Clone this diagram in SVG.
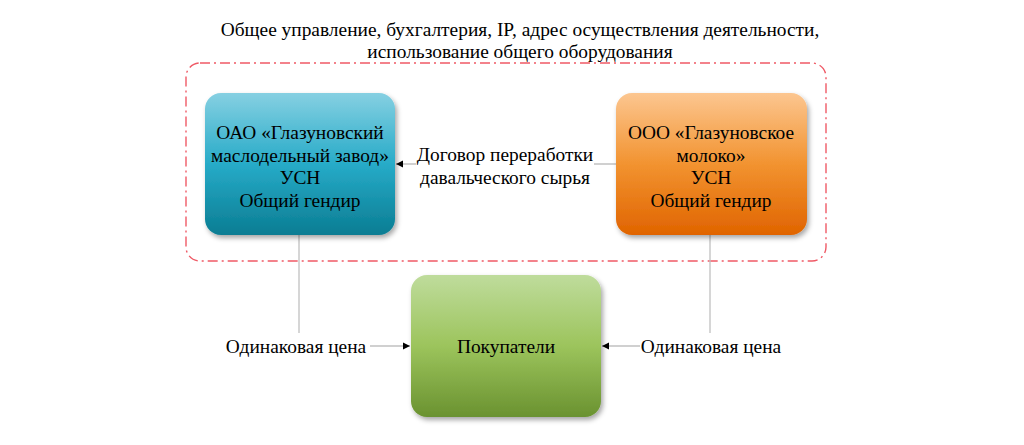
<svg xmlns="http://www.w3.org/2000/svg" width="1024" height="445" viewBox="0 0 1024 445">
<style>
text{font-family:"Liberation Serif","Times New Roman",serif;fill:#000}
.t{font-size:19.4px;text-anchor:middle}
.conn{stroke:#c0c0c0;stroke-width:1.3;fill:none}
.frame{fill:none;stroke:#ef5a66;stroke-width:1.4;stroke-dasharray:10 4 2 4}
</style>
<defs>
<linearGradient id="gBlue" x1="0" y1="0" x2="0" y2="1">
<stop offset="0" stop-color="#86d0e2"/><stop offset="0.5" stop-color="#27abc8"/><stop offset="1" stop-color="#0a7d93"/>
</linearGradient>
<linearGradient id="gOrange" x1="0" y1="0" x2="0" y2="1">
<stop offset="0" stop-color="#fcc690"/><stop offset="0.5" stop-color="#f29330"/><stop offset="1" stop-color="#e06400"/>
</linearGradient>
<linearGradient id="gGreen" x1="0" y1="0" x2="0" y2="1">
<stop offset="0" stop-color="#bfdc9c"/><stop offset="0.5" stop-color="#9cc45c"/><stop offset="1" stop-color="#6a9230"/>
</linearGradient>
<filter id="sh" x="-10%" y="-10%" width="125%" height="125%">
<feDropShadow dx="2" dy="3" stdDeviation="2.5" flood-color="#000" flood-opacity="0.35"/>
</filter>
<marker id="arr" markerWidth="8" markerHeight="8" refX="7" refY="4" orient="auto" markerUnits="userSpaceOnUse">
<path d="M0,0.5 L7,4 L0,7.5 Z" fill="#000"/>
</marker>
</defs>
<rect width="1024" height="445" fill="#fff"/>

<g id="top-label">
<text class="t" x="520" y="36">Общее управление, бухгалтерия, IP, адрес осуществления деятельности,</text>
<text class="t" x="520" y="58">использование общего оборудования</text>
</g>

<g id="frame">
<rect class="frame" x="186" y="63" width="640" height="198" rx="14"/>
</g>

<g id="connectors">
<line class="conn" x1="616" y1="164" x2="396" y2="164" marker-end="url(#arr)"/>
<rect x="416" y="140" width="178" height="46" fill="#fff"/>
<polyline class="conn" points="299,235 299,333"/>
<polyline class="conn" points="710,235 710,333"/>
<line class="conn" x1="370" y1="346" x2="410" y2="346" marker-end="url(#arr)"/>
<line class="conn" x1="640" y1="346" x2="602" y2="346" marker-end="url(#arr)"/>
</g>

<g id="node-oao">
<rect x="205" y="93" width="190" height="142" rx="16" fill="url(#gBlue)" filter="url(#sh)"/>
<text class="t" x="300" y="139">ОАО «Глазуновский</text>
<text class="t" x="300" y="162">маслодельный завод»</text>
<text class="t" x="300" y="184">УСН</text>
<text class="t" x="300" y="207">Общий гендир</text>
</g>

<g id="node-ooo">
<rect x="616" y="93" width="191" height="142" rx="16" fill="url(#gOrange)" filter="url(#sh)"/>
<text class="t" x="711" y="139">ООО «Глазуновское</text>
<text class="t" x="711" y="162">молоко»</text>
<text class="t" x="711" y="184">УСН</text>
<text class="t" x="711" y="207">Общий гендир</text>
</g>

<g id="label-contract">
<text class="t" x="505" y="161">Договор переработки</text>
<text class="t" x="505" y="184">давальческого сырья</text>
</g>

<g id="node-buyers">
<rect x="411" y="275" width="190" height="142" rx="16" fill="url(#gGreen)" filter="url(#sh)"/>
<text class="t" x="506" y="353">Покупатели</text>
</g>

<g id="label-price-left">
<text class="t" x="296" y="353">Одинаковая цена</text>
</g>
<g id="label-price-right">
<text class="t" x="711" y="353">Одинаковая цена</text>
</g>
</svg>
